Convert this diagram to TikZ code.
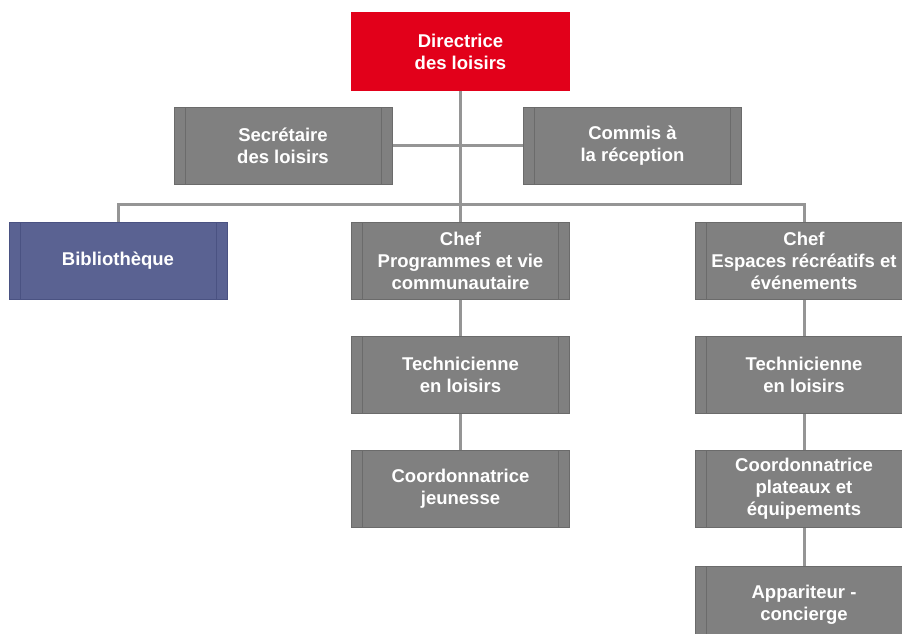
\documentclass[tikz,border=0pt]{standalone}
\usepackage{fontspec}
\setmainfont{Liberation Sans}
\usetikzlibrary{positioning}

\definecolor{boxgray}{HTML}{808080}
\definecolor{edgegray}{HTML}{6B6B6B}
\definecolor{linegray}{HTML}{959595}
\definecolor{dirred}{HTML}{E2001A}
\definecolor{bibblue}{HTML}{5A6292}
\definecolor{bibedge}{HTML}{4A5282}

\tikzset{
  unit/.style={rectangle, fill=boxgray, draw=edgegray, line width=1pt,
    minimum width=218pt, minimum height=77pt, inner sep=2pt,
    text=white, align=center,
    font=\bfseries\fontsize{18.5}{22}\selectfont,
    path picture={
      \draw[edgegray, line width=1pt]
        ([xshift=11pt]path picture bounding box.north west) --
        ([xshift=11pt]path picture bounding box.south west);
      \draw[edgegray, line width=1pt]
        ([xshift=-11pt]path picture bounding box.north east) --
        ([xshift=-11pt]path picture bounding box.south east);
    }},
  head/.style={rectangle, fill=dirred, draw=dirred, line width=1pt,
    minimum width=218pt, minimum height=77pt, inner sep=2pt,
    text=white, align=center,
    font=\bfseries\fontsize{18.5}{22}\selectfont},
  link/.style={draw=linegray, line width=3pt}
}

\begin{document}
\begin{tikzpicture}[x=1pt, y=-1pt]
\useasboundingbox (0,0) rectangle (902,634);

\node[head] (dir) at (460.5,51.5) {Directrice\\des loisirs};
\node[unit] (sec) at (283,145.5) {Secrétaire\\des loisirs};
\node[unit] (com) at (632.5,145.5) {Commis à\\la réception};

\node[unit, fill=bibblue, draw=bibedge,
  path picture={
    \draw[bibedge, line width=1pt]
      ([xshift=11pt]path picture bounding box.north west) --
      ([xshift=11pt]path picture bounding box.south west);
    \draw[bibedge, line width=1pt]
      ([xshift=-11pt]path picture bounding box.north east) --
      ([xshift=-11pt]path picture bounding box.south east);
  }] (bib) at (118,260.5) {Bibliothèque};
\node[unit] (chefp) at (460.5,260.5) {Chef\\Programmes et vie\\communautaire};
\node[unit] (chefe) at (804,260.5) {Chef\\Espaces récréatifs et\\événements};

\node[unit] (techp) at (460.5,375) {Technicienne\\en loisirs};
\node[unit] (coordp) at (460.5,489) {Coordonnatrice\\jeunesse};

\node[unit] (teche) at (804,375) {Technicienne\\en loisirs};
\node[unit] (coorde) at (804,489) {Coordonnatrice\\plateaux et\\équipements};
\node[unit] (app) at (804,604.5) {Appariteur -\\concierge};

% liens hiérarchiques
\draw[link] (dir.south) -- (chefp.north);
\draw[link] (sec.east) -- (com.west);
\draw[link] (bib.north) -- ++(0,-17) -| (chefe.north);
\draw[link] (chefp.south) -- (techp.north);
\draw[link] (techp.south) -- (coordp.north);
\draw[link] (chefe.south) -- (teche.north);
\draw[link] (teche.south) -- (coorde.north);
\draw[link] (coorde.south) -- (app.north);
\end{tikzpicture}
\end{document}
